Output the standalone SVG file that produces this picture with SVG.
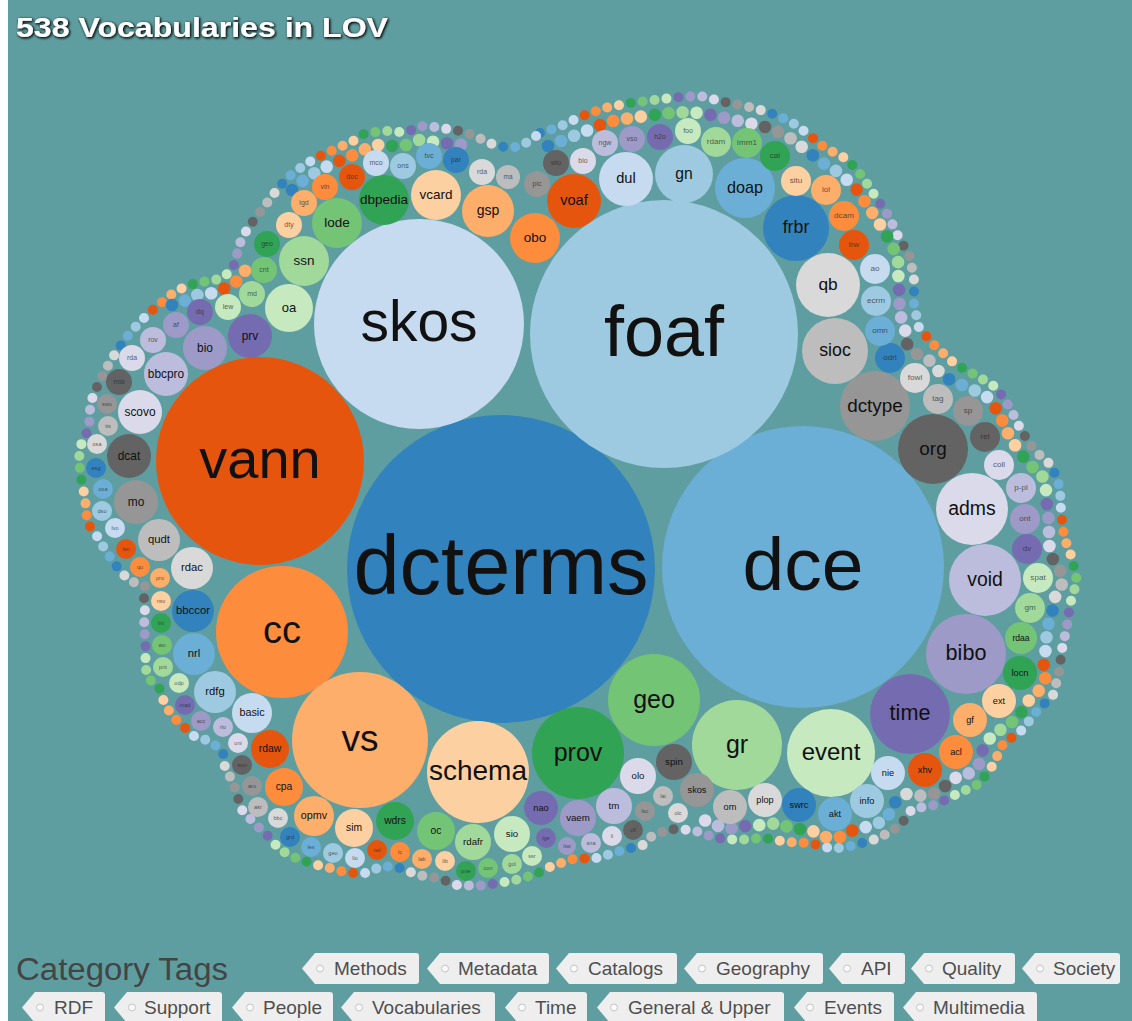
<svg xmlns="http://www.w3.org/2000/svg" width="1132" height="1021" viewBox="0 0 1132 1021">
<style>
.c0{fill:#3182bd}.c1{fill:#6baed6}.c2{fill:#9ecae1}.c3{fill:#c6dbef}.c4{fill:#e6550d}.c5{fill:#fd8d3c}.c6{fill:#fdae6b}.c7{fill:#fdd0a2}.c8{fill:#31a354}.c9{fill:#74c476}.c10{fill:#a1d99b}.c11{fill:#c7e9c0}.c12{fill:#756bb1}.c13{fill:#9e9ac8}.c14{fill:#bcbddc}.c15{fill:#dadaeb}.c16{fill:#636363}.c17{fill:#969696}.c18{fill:#bdbdbd}.c19{fill:#d9d9d9}
.d0{stroke:#3182bd}.d1{stroke:#6baed6}.d2{stroke:#9ecae1}.d3{stroke:#c6dbef}.d4{stroke:#e6550d}.d5{stroke:#fd8d3c}.d6{stroke:#fdae6b}.d7{stroke:#fdd0a2}.d8{stroke:#31a354}.d9{stroke:#74c476}.d10{stroke:#a1d99b}.d11{stroke:#c7e9c0}.d12{stroke:#756bb1}.d13{stroke:#9e9ac8}.d14{stroke:#bcbddc}.d15{stroke:#dadaeb}.d16{stroke:#636363}.d17{stroke:#969696}.d18{stroke:#bdbdbd}.d19{stroke:#d9d9d9}
.node text{font-family:"Liberation Sans",Arial,sans-serif;text-anchor:middle;fill:#111}
.sm text{fill:#2a2a2a;fill-opacity:.75}
.row use{fill:none;stroke-linecap:round}
.r1 use{stroke-width:10;stroke-dasharray:0 240}
.r2 use{stroke-width:12.6;stroke-dasharray:0 280}
.tag path{fill:#eeeeee}
.tag circle{fill:#fafafa;stroke:#c4c4c4;stroke-width:1}
.tag text{font-family:"Liberation Sans",Arial,sans-serif;font-size:19px;fill:#4e4e4e}
</style>
<defs>
<filter id="ts" x="-5%" y="-40%" width="110%" height="180%">
<feGaussianBlur in="SourceAlpha" stdDeviation="1.6"/>
<feOffset dx="1" dy="1" result="b"/>
<feFlood flood-color="#000" flood-opacity="0.8"/>
<feComposite in2="b" operator="in"/>
<feMerge><feMergeNode/><feMergeNode/><feMergeNode in="SourceGraphic"/></feMerge>
</filter>
<path id="p1" d="M540,133 L559,127 580,117 605,108 630,103 655,100 680,97 700,96 720,101 745,106 768,112 790,121 808,134 825,148 847,159 862,176 875,196 888,215 898,236 910,257 914,280 914,305 919,328 935,346 955,364 977,376 997,388 1010,408 1021,430 1034,450 1052,466 1060,488 1061,512 1064,537 1072,558 1077,581 1070,604 1067,626 1062,649 1059,673 1053,695 1037,711 1022,730 1003,744 993,765 979,784 957,794 935,805 912,809 900,826 879,838 856,845 833,849 810,843 787,842 763,838 739,840 716,838 693,830 670,829 652,836 643,845 620,851 597,858 573,859 552,866 536,874 520,879 500,883 478,886 457,885 438,878 418,875 400,868 383,866 365,873 348,873 330,868 313,864 296,858 280,850 268,836 255,824 242,810 237,795 233,782 225,768 223,752 210,741 195,737 183,726 172,716 164,702 160,689 148,678 145,665 146,652 145,638 144,625 145,612 144,598 145,586 130,581 120,571 112,560 104,548 97,536 88,524 86,510 85,497 82,484 80,471 79,458 81,445 87,432 90,419 90,406 94,393 100,381 106,369 113,357 121,345 129,334 139,323 150,312 161,303 172,294 184,287 196,283 208,281 220,279 230,272 236,261 238,248 243,236 251,224 260,212 270,199 280,186 291,175 303,166 316,158 329,152 342,146 355,140 364,134 376,132 388,131 400,132 412,130 423,126 435,127 447,129 459,131 470,134 481,139 492,144 504,147 516,147 528,142 Z"/>
<path id="p2" d="M172,305 L182,303 191,296 203,294 215,293 227,287 237,281 245,271 248,260 M292,190 L306,178 320,170 334,163 349,157 363,150 378,145 392,146 406,145 419,140 443,143 468,145 M548,146 L566,139 586,131 607,122 630,118 654,115 678,112 702,113 725,118 748,123 769,128 789,137 806,150 823,163 841,174 857,190 871,211 883,229 893,247 899,265 898,282 900,297 899,312 905,327 906,343 917,354 932,362 942,376 957,383 972,389 987,397 997,410 1004,424 1010,438 1019,451 1029,464 1042,475 1046,490 1047,507 1049,523 1049,539 1050,555 1060,569 1062,584 1054,599 1052,615 1046,630 1047,645 1043,661 1046,677 1038,692 1026,703 1019,717 1005,727 992,735 983,749 979,764 967,775 951,779 940,792 924,796 906,794 893,804 887,819 872,826 855,829 841,837 824,837 809,829 793,829 778,823 762,825 745,826 728,829 712,824 698,817"/>
</defs>
<rect x="0" y="0" width="1132" height="1021" fill="#5f9ea0"/>
<rect x="0" y="0" width="8" height="1021" fill="#ffffff"/>

<g id="outer-ring-1" class="row r1">
<use href="#p1" class="d0"/><use href="#p1" class="d1" style="stroke-dashoffset:-12"/><use href="#p1" class="d2" style="stroke-dashoffset:-24"/><use href="#p1" class="d3" style="stroke-dashoffset:-36"/><use href="#p1" class="d4" style="stroke-dashoffset:-48"/><use href="#p1" class="d5" style="stroke-dashoffset:-60"/><use href="#p1" class="d6" style="stroke-dashoffset:-72"/><use href="#p1" class="d7" style="stroke-dashoffset:-84"/><use href="#p1" class="d8" style="stroke-dashoffset:-96"/><use href="#p1" class="d9" style="stroke-dashoffset:-108"/><use href="#p1" class="d10" style="stroke-dashoffset:-120"/><use href="#p1" class="d11" style="stroke-dashoffset:-132"/><use href="#p1" class="d12" style="stroke-dashoffset:-144"/><use href="#p1" class="d13" style="stroke-dashoffset:-156"/><use href="#p1" class="d14" style="stroke-dashoffset:-168"/><use href="#p1" class="d15" style="stroke-dashoffset:-180"/><use href="#p1" class="d16" style="stroke-dashoffset:-192"/><use href="#p1" class="d17" style="stroke-dashoffset:-204"/><use href="#p1" class="d18" style="stroke-dashoffset:-216"/><use href="#p1" class="d19" style="stroke-dashoffset:-228"/>
</g>
<g id="outer-ring-2" class="row r2">
<use href="#p2" class="d0"/><use href="#p2" class="d1" style="stroke-dashoffset:-14"/><use href="#p2" class="d2" style="stroke-dashoffset:-28"/><use href="#p2" class="d3" style="stroke-dashoffset:-42"/><use href="#p2" class="d4" style="stroke-dashoffset:-56"/><use href="#p2" class="d5" style="stroke-dashoffset:-70"/><use href="#p2" class="d6" style="stroke-dashoffset:-84"/><use href="#p2" class="d7" style="stroke-dashoffset:-98"/><use href="#p2" class="d8" style="stroke-dashoffset:-112"/><use href="#p2" class="d9" style="stroke-dashoffset:-126"/><use href="#p2" class="d10" style="stroke-dashoffset:-140"/><use href="#p2" class="d11" style="stroke-dashoffset:-154"/><use href="#p2" class="d12" style="stroke-dashoffset:-168"/><use href="#p2" class="d13" style="stroke-dashoffset:-182"/><use href="#p2" class="d14" style="stroke-dashoffset:-196"/><use href="#p2" class="d15" style="stroke-dashoffset:-210"/><use href="#p2" class="d16" style="stroke-dashoffset:-224"/><use href="#p2" class="d17" style="stroke-dashoffset:-238"/><use href="#p2" class="d18" style="stroke-dashoffset:-252"/><use href="#p2" class="d19" style="stroke-dashoffset:-266"/>
</g>

<g id="nodes">
<g id="n-dcterms" class="node"><circle class="c0" cx="501" cy="569" r="154"/><text x="501" y="569" dy=".3em" font-size="83">dcterms</text></g>
<g id="n-dce" class="node"><circle class="c1" cx="803" cy="567" r="141"/><text x="803" y="567" dy=".3em" font-size="75">dce</text></g>
<g id="n-foaf" class="node"><circle class="c2" cx="664" cy="334" r="134"/><text x="664" y="334" dy=".3em" font-size="72">foaf</text></g>
<g id="n-skos" class="node"><circle class="c3" cx="419" cy="324" r="105"/><text x="419" y="324" dy=".3em" font-size="57">skos</text></g>
<g id="n-vann" class="node"><circle class="c4" cx="260" cy="461" r="104"/><text x="260" y="461" dy=".3em" font-size="56">vann</text></g>
<g id="n-cc" class="node"><circle class="c5" cx="282" cy="632" r="66"/><text x="282" y="632" dy=".3em" font-size="38">cc</text></g>
<g id="n-vs" class="node"><circle class="c6" cx="360" cy="740" r="68"/><text x="360" y="740" dy=".3em" font-size="37">vs</text></g>
<g id="n-schema" class="node"><circle class="c7" cx="478" cy="772" r="51"/><text x="478" y="772" dy=".3em" font-size="28">schema</text></g>
<g id="n-prov" class="node"><circle class="c8" cx="578" cy="753" r="46"/><text x="578" y="753" dy=".3em" font-size="25">prov</text></g>
<g id="n-geo" class="node"><circle class="c9" cx="654" cy="700" r="46"/><text x="654" y="700" dy=".3em" font-size="25">geo</text></g>
<g id="n-gr" class="node"><circle class="c10" cx="737" cy="745" r="45"/><text x="737" y="745" dy=".3em" font-size="25">gr</text></g>
<g id="n-event" class="node"><circle class="c11" cx="831" cy="753" r="44"/><text x="831" y="753" dy=".3em" font-size="24">event</text></g>
<g id="n-time" class="node"><circle class="c12" cx="910" cy="714" r="40"/><text x="910" y="714" dy=".3em" font-size="21.6">time</text></g>
<g id="n-bibo" class="node"><circle class="c13" cx="966" cy="654" r="40"/><text x="966" y="654" dy=".3em" font-size="21.6">bibo</text></g>
<g id="n-void" class="node"><circle class="c14" cx="985" cy="580" r="36"/><text x="985" y="580" dy=".3em" font-size="19.4">void</text></g>
<g id="n-adms" class="node"><circle class="c15" cx="972" cy="509" r="36"/><text x="972" y="509" dy=".3em" font-size="19.4">adms</text></g>
<g id="n-org" class="node"><circle class="c16" cx="933" cy="449" r="35"/><text x="933" y="449" dy=".3em" font-size="18.9">org</text></g>
<g id="n-dctype" class="node"><circle class="c17" cx="875" cy="406" r="35"/><text x="875" y="406" dy=".3em" font-size="18.9">dctype</text></g>
<g id="n-sioc" class="node"><circle class="c18" cx="835" cy="351" r="33"/><text x="835" y="351" dy=".3em" font-size="17.8">sioc</text></g>
<g id="n-qb" class="node"><circle class="c19" cx="828" cy="285" r="32"/><text x="828" y="285" dy=".3em" font-size="17.3">qb</text></g>
<g id="n-frbr" class="node"><circle class="c0" cx="796" cy="228" r="33"/><text x="796" y="228" dy=".3em" font-size="17.8">frbr</text></g>
<g id="n-doap" class="node"><circle class="c1" cx="745" cy="188" r="30"/><text x="745" y="188" dy=".3em" font-size="16.2">doap</text></g>
<g id="n-gn" class="node"><circle class="c2" cx="684" cy="174" r="29"/><text x="684" y="174" dy=".3em" font-size="15.7">gn</text></g>
<g id="n-dul" class="node"><circle class="c3" cx="626" cy="179" r="27"/><text x="626" y="179" dy=".3em" font-size="14.6">dul</text></g>
<g id="n-voaf" class="node"><circle class="c4" cx="574" cy="201" r="27"/><text x="574" y="201" dy=".3em" font-size="14.6">voaf</text></g>
<g id="n-obo" class="node"><circle class="c5" cx="535" cy="238" r="25"/><text x="535" y="238" dy=".3em" font-size="13.5">obo</text></g>
<g id="n-gsp" class="node"><circle class="c6" cx="488" cy="211" r="26"/><text x="488" y="211" dy=".3em" font-size="14">gsp</text></g>
<g id="n-vcard" class="node"><circle class="c7" cx="436" cy="195" r="25"/><text x="436" y="195" dy=".3em" font-size="13.5">vcard</text></g>
<g id="n-dbpedia" class="node"><circle class="c8" cx="384" cy="200" r="25"/><text x="384" y="200" dy=".3em" font-size="13.5">dbpedia</text></g>
<g id="n-lode" class="node"><circle class="c9" cx="337" cy="223" r="25"/><text x="337" y="223" dy=".3em" font-size="13.5">lode</text></g>
<g id="n-ssn" class="node"><circle class="c10" cx="304" cy="261" r="25"/><text x="304" y="261" dy=".3em" font-size="13.5">ssn</text></g>
<g id="n-oa" class="node"><circle class="c11" cx="289" cy="308" r="24"/><text x="289" y="308" dy=".3em" font-size="13">oa</text></g>
<g id="n-prv" class="node"><circle class="c12" cx="250" cy="336" r="22"/><text x="250" y="336" dy=".3em" font-size="11.9">prv</text></g>
<g id="n-bio" class="node"><circle class="c13" cx="205" cy="348" r="22"/><text x="205" y="348" dy=".3em" font-size="11.9">bio</text></g>
<g id="n-bbcpro" class="node"><circle class="c14" cx="166" cy="374" r="22"/><text x="166" y="374" dy=".3em" font-size="11.9">bbcpro</text></g>
<g id="n-scovo" class="node"><circle class="c15" cx="140" cy="412" r="22"/><text x="140" y="412" dy=".3em" font-size="11.9">scovo</text></g>
<g id="n-dcat" class="node"><circle class="c16" cx="129" cy="456" r="22"/><text x="129" y="456" dy=".3em" font-size="11.9">dcat</text></g>
<g id="n-mo" class="node"><circle class="c17" cx="136" cy="502" r="22"/><text x="136" y="502" dy=".3em" font-size="11.9">mo</text></g>
<g id="n-qudt" class="node"><circle class="c18" cx="159" cy="540" r="21"/><text x="159" y="540" dy=".3em" font-size="11.3">qudt</text></g>
<g id="n-rdac" class="node"><circle class="c19" cx="192" cy="568" r="21"/><text x="192" y="568" dy=".3em" font-size="11.3">rdac</text></g>
<g id="n-bbccor" class="node"><circle class="c0" cx="193" cy="611" r="21"/><text x="193" y="611" dy=".3em" font-size="11.3">bbccor</text></g>
<g id="n-nrl" class="node"><circle class="c1" cx="194" cy="654" r="21"/><text x="194" y="654" dy=".3em" font-size="11.3">nrl</text></g>
<g id="n-rdfg" class="node"><circle class="c2" cx="215" cy="692" r="21"/><text x="215" y="692" dy=".3em" font-size="11.3">rdfg</text></g>
<g id="n-basic" class="node"><circle class="c3" cx="252" cy="713" r="20"/><text x="252" y="713" dy=".3em" font-size="10.8">basic</text></g>
<g id="n-rdaw" class="node"><circle class="c4" cx="270" cy="749" r="19"/><text x="270" y="749" dy=".3em" font-size="10.3">rdaw</text></g>
<g id="n-cpa" class="node"><circle class="c5" cx="284" cy="787" r="19"/><text x="284" y="787" dy=".3em" font-size="10.3">cpa</text></g>
<g id="n-opmv" class="node"><circle class="c6" cx="314" cy="816" r="20"/><text x="314" y="816" dy=".3em" font-size="10.8">opmv</text></g>
<g id="n-sim" class="node"><circle class="c7" cx="354" cy="828" r="19"/><text x="354" y="828" dy=".3em" font-size="10.3">sim</text></g>
<g id="n-wdrs" class="node"><circle class="c8" cx="395" cy="821" r="19"/><text x="395" y="821" dy=".3em" font-size="10.3">wdrs</text></g>
<g id="n-oc" class="node"><circle class="c9" cx="436" cy="831" r="19"/><text x="436" y="831" dy=".3em" font-size="10.3">oc</text></g>
<g id="n-rdafr" class="node"><circle class="c10" cx="473" cy="842" r="18"/><text x="473" y="842" dy=".3em" font-size="9.7">rdafr</text></g>
<g id="n-sio" class="node"><circle class="c11" cx="512" cy="834" r="18"/><text x="512" y="834" dy=".3em" font-size="9.7">sio</text></g>
<g id="n-nao" class="node"><circle class="c12" cx="541" cy="808" r="17"/><text x="541" y="808" dy=".3em" font-size="9.2">nao</text></g>
<g id="n-vaem" class="node"><circle class="c13" cx="578" cy="818" r="18"/><text x="578" y="818" dy=".3em" font-size="9.7">vaem</text></g>
<g id="n-tm" class="node"><circle class="c14" cx="614" cy="806" r="18"/><text x="614" y="806" dy=".3em" font-size="9.7">tm</text></g>
<g id="n-olo" class="node"><circle class="c15" cx="638" cy="776" r="18"/><text x="638" y="776" dy=".3em" font-size="9.7">olo</text></g>
<g id="n-spin" class="node"><circle class="c16" cx="674" cy="762" r="18"/><text x="674" y="762" dy=".3em" font-size="9.7">spin</text></g>
<g id="n-skos-2" class="node"><circle class="c17" cx="697" cy="790" r="17"/><text x="697" y="790" dy=".3em" font-size="9.2">skos</text></g>
<g id="n-om" class="node"><circle class="c18" cx="730" cy="807" r="17"/><text x="730" y="807" dy=".3em" font-size="9.2">om</text></g>
<g id="n-plop" class="node"><circle class="c19" cx="765" cy="800" r="17"/><text x="765" y="800" dy=".3em" font-size="9.2">plop</text></g>
<g id="n-swrc" class="node"><circle class="c0" cx="799" cy="805" r="17"/><text x="799" y="805" dy=".3em" font-size="9.2">swrc</text></g>
<g id="n-akt" class="node"><circle class="c1" cx="835" cy="814" r="17"/><text x="835" y="814" dy=".3em" font-size="9.2">akt</text></g>
<g id="n-info" class="node"><circle class="c2" cx="867" cy="801" r="17"/><text x="867" y="801" dy=".3em" font-size="9.2">info</text></g>
<g id="n-nie" class="node"><circle class="c3" cx="888" cy="773" r="17"/><text x="888" y="773" dy=".3em" font-size="9.2">nie</text></g>
<g id="n-xhv" class="node"><circle class="c4" cx="925" cy="770" r="17"/><text x="925" y="770" dy=".3em" font-size="9.2">xhv</text></g>
<g id="n-acl" class="node"><circle class="c5" cx="956" cy="752" r="17"/><text x="956" y="752" dy=".3em" font-size="9.2">acl</text></g>
<g id="n-gf" class="node"><circle class="c6" cx="970" cy="720" r="17"/><text x="970" y="720" dy=".3em" font-size="9.2">gf</text></g>
<g id="n-ext" class="node"><circle class="c7" cx="999" cy="701" r="17"/><text x="999" y="701" dy=".3em" font-size="9.2">ext</text></g>
<g id="n-locn" class="node"><circle class="c8" cx="1020" cy="673" r="17"/><text x="1020" y="673" dy=".3em" font-size="9.2">locn</text></g>
<g id="n-rdaa" class="node"><circle class="c9" cx="1021" cy="638" r="16"/><text x="1021" y="638" dy=".3em" font-size="8.6">rdaa</text></g>
<g id="n-gm" class="node sm"><circle class="c10" cx="1030" cy="608" r="15"/><text x="1030" y="608" dy=".3em" font-size="8.1">gm</text></g>
<g id="n-spat" class="node sm"><circle class="c11" cx="1038" cy="578" r="15"/><text x="1038" y="578" dy=".3em" font-size="8.1">spat</text></g>
<g id="n-dv" class="node sm"><circle class="c12" cx="1027" cy="549" r="15"/><text x="1027" y="549" dy=".3em" font-size="8.1">dv</text></g>
<g id="n-ont" class="node sm"><circle class="c13" cx="1025" cy="519" r="15"/><text x="1025" y="519" dy=".3em" font-size="8.1">ont</text></g>
<g id="n-p-pl" class="node sm"><circle class="c14" cx="1021" cy="488" r="15"/><text x="1021" y="488" dy=".3em" font-size="8.1">p-pl</text></g>
<g id="n-coll" class="node sm"><circle class="c15" cx="999" cy="465" r="15"/><text x="999" y="465" dy=".3em" font-size="8.1">coll</text></g>
<g id="n-rel" class="node sm"><circle class="c16" cx="985" cy="437" r="15"/><text x="985" y="437" dy=".3em" font-size="8.1">rel</text></g>
<g id="n-sp" class="node sm"><circle class="c17" cx="968" cy="411" r="15"/><text x="968" y="411" dy=".3em" font-size="8.1">sp</text></g>
<g id="n-tag" class="node sm"><circle class="c18" cx="938" cy="399" r="15"/><text x="938" y="399" dy=".3em" font-size="8.1">tag</text></g>
<g id="n-fowl" class="node sm"><circle class="c19" cx="915" cy="378" r="15"/><text x="915" y="378" dy=".3em" font-size="8.1">fowl</text></g>
<g id="n-odrl" class="node sm"><circle class="c0" cx="890" cy="358" r="15"/><text x="890" y="358" dy=".3em" font-size="8.1">odrl</text></g>
<g id="n-omn" class="node sm"><circle class="c1" cx="880" cy="331" r="15"/><text x="880" y="331" dy=".3em" font-size="8.1">omn</text></g>
<g id="n-ecrm" class="node sm"><circle class="c2" cx="876" cy="301" r="15"/><text x="876" y="301" dy=".3em" font-size="8.1">ecrm</text></g>
<g id="n-ao" class="node sm"><circle class="c3" cx="875" cy="269" r="15"/><text x="875" y="269" dy=".3em" font-size="8.1">ao</text></g>
<g id="n-lrw" class="node sm"><circle class="c4" cx="854" cy="245" r="15"/><text x="854" y="245" dy=".3em" font-size="8.1">lrw</text></g>
<g id="n-dcam" class="node sm"><circle class="c5" cx="844" cy="216" r="15"/><text x="844" y="216" dy=".3em" font-size="8.1">dcam</text></g>
<g id="n-lol" class="node sm"><circle class="c6" cx="826" cy="190" r="15"/><text x="826" y="190" dy=".3em" font-size="8.1">lol</text></g>
<g id="n-situ" class="node sm"><circle class="c7" cx="796" cy="181" r="15"/><text x="796" y="181" dy=".3em" font-size="8.1">situ</text></g>
<g id="n-cal" class="node sm"><circle class="c8" cx="775" cy="156" r="15"/><text x="775" y="156" dy=".3em" font-size="8.1">cal</text></g>
<g id="n-lmm1" class="node sm"><circle class="c9" cx="747" cy="143" r="15"/><text x="747" y="143" dy=".3em" font-size="8.1">lmm1</text></g>
<g id="n-rdam" class="node sm"><circle class="c10" cx="716" cy="142" r="15"/><text x="716" y="142" dy=".3em" font-size="8.1">rdam</text></g>
<g id="n-foo" class="node sm"><circle class="c11" cx="688" cy="131" r="13"/><text x="688" y="131" dy=".3em" font-size="7">foo</text></g>
<g id="n-h2o" class="node sm"><circle class="c12" cx="660" cy="137" r="13"/><text x="660" y="137" dy=".3em" font-size="7">h2o</text></g>
<g id="n-vso" class="node sm"><circle class="c13" cx="632" cy="139" r="13"/><text x="632" y="139" dy=".3em" font-size="7">vso</text></g>
<g id="n-ngw" class="node sm"><circle class="c14" cx="605" cy="143" r="13"/><text x="605" y="143" dy=".3em" font-size="7">ngw</text></g>
<g id="n-bio-2" class="node sm"><circle class="c15" cx="583" cy="161" r="13"/><text x="583" y="161" dy=".3em" font-size="7">bio</text></g>
<g id="n-wlo" class="node sm"><circle class="c16" cx="556" cy="163" r="13"/><text x="556" y="163" dy=".3em" font-size="7">wlo</text></g>
<g id="n-pic" class="node sm"><circle class="c17" cx="537" cy="184" r="13"/><text x="537" y="184" dy=".3em" font-size="7">pic</text></g>
<g id="n-ma" class="node sm"><circle class="c18" cx="508" cy="177" r="12"/><text x="508" y="177" dy=".3em" font-size="6.5">ma</text></g>
<g id="n-rda" class="node sm"><circle class="c19" cx="482" cy="172" r="13"/><text x="482" y="172" dy=".3em" font-size="7">rda</text></g>
<g id="n-par" class="node sm"><circle class="c0" cx="456" cy="160" r="13"/><text x="456" y="160" dy=".3em" font-size="7">par</text></g>
<g id="n-tvc" class="node sm"><circle class="c1" cx="429" cy="156" r="13"/><text x="429" y="156" dy=".3em" font-size="7">tvc</text></g>
<g id="n-ons" class="node sm"><circle class="c2" cx="403" cy="166" r="13"/><text x="403" y="166" dy=".3em" font-size="7">ons</text></g>
<g id="n-mco" class="node sm"><circle class="c3" cx="376" cy="163" r="13"/><text x="376" y="163" dy=".3em" font-size="7">mco</text></g>
<g id="n-doc" class="node sm"><circle class="c4" cx="352" cy="177" r="13"/><text x="352" y="177" dy=".3em" font-size="7">doc</text></g>
<g id="n-vin" class="node sm"><circle class="c5" cx="325" cy="187" r="13"/><text x="325" y="187" dy=".3em" font-size="7">vin</text></g>
<g id="n-lgd" class="node sm"><circle class="c6" cx="304" cy="203" r="13"/><text x="304" y="203" dy=".3em" font-size="7">lgd</text></g>
<g id="n-dty" class="node sm"><circle class="c7" cx="289" cy="225" r="13"/><text x="289" y="225" dy=".3em" font-size="7">dty</text></g>
<g id="n-geo-2" class="node sm"><circle class="c8" cx="267" cy="244" r="13"/><text x="267" y="244" dy=".3em" font-size="7">geo</text></g>
<g id="n-cnt" class="node sm"><circle class="c9" cx="264" cy="270" r="13"/><text x="264" y="270" dy=".3em" font-size="7">cnt</text></g>
<g id="n-md" class="node sm"><circle class="c10" cx="252" cy="294" r="13"/><text x="252" y="294" dy=".3em" font-size="7">md</text></g>
<g id="n-lew" class="node sm"><circle class="c11" cx="228" cy="307" r="13"/><text x="228" y="307" dy=".3em" font-size="7">lew</text></g>
<g id="n-dq" class="node sm"><circle class="c12" cx="200" cy="312" r="13"/><text x="200" y="312" dy=".3em" font-size="7">dq</text></g>
<g id="n-af" class="node sm"><circle class="c13" cx="176" cy="325" r="13"/><text x="176" y="325" dy=".3em" font-size="7">af</text></g>
<g id="n-rov" class="node sm"><circle class="c14" cx="153" cy="340" r="13"/><text x="153" y="340" dy=".3em" font-size="7">rov</text></g>
<g id="n-rda-2" class="node sm"><circle class="c15" cx="132" cy="358" r="13"/><text x="132" y="358" dy=".3em" font-size="7">rda</text></g>
<g id="n-mla" class="node sm"><circle class="c16" cx="119" cy="382" r="13"/><text x="119" y="382" dy=".3em" font-size="7">mla</text></g>
<g id="n-swo" class="node sm"><circle class="c17" cx="107" cy="404" r="10"/><text x="107" y="404" dy=".3em" font-size="5.6">swo</text></g>
<g id="n-tis" class="node sm"><circle class="c18" cx="108" cy="426" r="10"/><text x="108" y="426" dy=".3em" font-size="5.6">tis</text></g>
<g id="n-osa" class="node sm"><circle class="c19" cx="97" cy="444" r="10"/><text x="97" y="444" dy=".3em" font-size="5.6">osa</text></g>
<g id="n-esg" class="node sm"><circle class="c0" cx="96" cy="468" r="10"/><text x="96" y="468" dy=".3em" font-size="5.6">esg</text></g>
<g id="n-oxa" class="node sm"><circle class="c1" cx="103" cy="489" r="10"/><text x="103" y="489" dy=".3em" font-size="5.6">oxa</text></g>
<g id="n-dso" class="node sm"><circle class="c2" cx="102" cy="511" r="10"/><text x="102" y="511" dy=".3em" font-size="5.6">dso</text></g>
<g id="n-lvo" class="node sm"><circle class="c3" cx="115" cy="528" r="10"/><text x="115" y="528" dy=".3em" font-size="5.6">lvo</text></g>
<g id="n-lsn" class="node sm"><circle class="c4" cx="126" cy="549" r="10"/><text x="126" y="549" dy=".3em" font-size="5.6">lsn</text></g>
<g id="n-qu" class="node sm"><circle class="c5" cx="140" cy="567" r="10"/><text x="140" y="567" dy=".3em" font-size="5.6">qu</text></g>
<g id="n-pro" class="node sm"><circle class="c6" cx="160" cy="578" r="10"/><text x="160" y="578" dy=".3em" font-size="5.6">pro</text></g>
<g id="n-nsv" class="node sm"><circle class="c7" cx="161" cy="601" r="10"/><text x="161" y="601" dy=".3em" font-size="5.6">nsv</text></g>
<g id="n-lnt" class="node sm"><circle class="c8" cx="161" cy="623" r="10"/><text x="161" y="623" dy=".3em" font-size="5.6">lnt</text></g>
<g id="n-wo" class="node sm"><circle class="c9" cx="162" cy="645" r="10"/><text x="162" y="645" dy=".3em" font-size="5.6">wo</text></g>
<g id="n-pnt" class="node sm"><circle class="c10" cx="163" cy="667" r="10"/><text x="163" y="667" dy=".3em" font-size="5.6">pnt</text></g>
<g id="n-odp" class="node sm"><circle class="c11" cx="179" cy="683" r="10"/><text x="179" y="683" dy=".3em" font-size="5.6">odp</text></g>
<g id="n-mad" class="node sm"><circle class="c12" cx="185" cy="705" r="10"/><text x="185" y="705" dy=".3em" font-size="5.6">mad</text></g>
<g id="n-acc" class="node sm"><circle class="c13" cx="201" cy="721" r="10"/><text x="201" y="721" dy=".3em" font-size="5.6">acc</text></g>
<g id="n-rlo" class="node sm"><circle class="c14" cx="223" cy="727" r="10"/><text x="223" y="727" dy=".3em" font-size="5.6">rlo</text></g>
<g id="n-uni" class="node sm"><circle class="c15" cx="238" cy="743" r="10"/><text x="238" y="743" dy=".3em" font-size="5.6">uni</text></g>
<g id="n-suo" class="node sm"><circle class="c16" cx="242" cy="765" r="10"/><text x="242" y="765" dy=".3em" font-size="5.6">suo</text></g>
<g id="n-aro" class="node sm"><circle class="c17" cx="252" cy="786" r="10"/><text x="252" y="786" dy=".3em" font-size="5.6">aro</text></g>
<g id="n-akr" class="node sm"><circle class="c18" cx="258" cy="807" r="10"/><text x="258" y="807" dy=".3em" font-size="5.6">akr</text></g>
<g id="n-bbc" class="node sm"><circle class="c19" cx="278" cy="818" r="10"/><text x="278" y="818" dy=".3em" font-size="5.6">bbc</text></g>
<g id="n-grd" class="node sm"><circle class="c0" cx="290" cy="837" r="10"/><text x="290" y="837" dy=".3em" font-size="5.6">grd</text></g>
<g id="n-lex" class="node sm"><circle class="c1" cx="311" cy="847" r="10"/><text x="311" y="847" dy=".3em" font-size="5.6">lex</text></g>
<g id="n-geo-3" class="node sm"><circle class="c2" cx="333" cy="853" r="10"/><text x="333" y="853" dy=".3em" font-size="5.6">geo</text></g>
<g id="n-lio" class="node sm"><circle class="c3" cx="355" cy="858" r="10"/><text x="355" y="858" dy=".3em" font-size="5.6">lio</text></g>
<g id="n-nsl" class="node sm"><circle class="c4" cx="377" cy="850" r="10"/><text x="377" y="850" dy=".3em" font-size="5.6">nsl</text></g>
<g id="n-lc" class="node sm"><circle class="c5" cx="400" cy="852" r="10"/><text x="400" y="852" dy=".3em" font-size="5.6">lc</text></g>
<g id="n-lab" class="node sm"><circle class="c6" cx="422" cy="859" r="10"/><text x="422" y="859" dy=".3em" font-size="5.6">lab</text></g>
<g id="n-lib" class="node sm"><circle class="c7" cx="445" cy="861" r="10"/><text x="445" y="861" dy=".3em" font-size="5.6">lib</text></g>
<g id="n-pne" class="node sm"><circle class="c8" cx="466" cy="871" r="10"/><text x="466" y="871" dy=".3em" font-size="5.6">pne</text></g>
<g id="n-con" class="node sm"><circle class="c9" cx="488" cy="868" r="10"/><text x="488" y="868" dy=".3em" font-size="5.6">con</text></g>
<g id="n-gol" class="node sm"><circle class="c10" cx="512" cy="864" r="10"/><text x="512" y="864" dy=".3em" font-size="5.6">gol</text></g>
<g id="n-ssr" class="node sm"><circle class="c11" cx="532" cy="856" r="10"/><text x="532" y="856" dy=".3em" font-size="5.6">ssr</text></g>
<g id="n-lge" class="node sm"><circle class="c12" cx="546" cy="838" r="10"/><text x="546" y="838" dy=".3em" font-size="5.6">lge</text></g>
<g id="n-lsw" class="node sm"><circle class="c13" cx="567" cy="846" r="9"/><text x="567" y="846" dy=".3em" font-size="5.2">lsw</text></g>
<g id="n-sna" class="node sm"><circle class="c14" cx="591" cy="843" r="10"/><text x="591" y="843" dy=".3em" font-size="5.6">sna</text></g>
<g id="n-li" class="node sm"><circle class="c15" cx="612" cy="836" r="10"/><text x="612" y="836" dy=".3em" font-size="5.6">li</text></g>
<g id="n-cff" class="node sm"><circle class="c16" cx="633" cy="830" r="10"/><text x="633" y="830" dy=".3em" font-size="5.6">cff</text></g>
<g id="n-lsc" class="node sm"><circle class="c17" cx="645" cy="811" r="10"/><text x="645" y="811" dy=".3em" font-size="5.6">lsc</text></g>
<g id="n-lai" class="node sm"><circle class="c18" cx="663" cy="796" r="10"/><text x="663" y="796" dy=".3em" font-size="5.6">lai</text></g>
<g id="n-olc" class="node sm"><circle class="c19" cx="678" cy="813" r="10"/><text x="678" y="813" dy=".3em" font-size="5.6">olc</text></g>
</g>

<text id="title" x="16" y="37" font-family="'Liberation Sans', Arial, sans-serif" font-weight="bold" font-size="28" fill="#ffffff" textLength="372" lengthAdjust="spacingAndGlyphs" filter="url(#ts)">538 Vocabularies in LOV</text>

<text id="category-title" x="16" y="980" font-family="'Liberation Sans', Arial, sans-serif" font-size="31" fill="#444444" textLength="212" lengthAdjust="spacingAndGlyphs">Category Tags</text>

<g id="tags">
<g id="tag-methods" class="tag"><path d="M302,968.5 L315,953 H416 Q419,953 419,956 V981 Q419,984 416,984 H315 Z"/><circle cx="320" cy="968.5" r="3.5"/><text x="334" y="975">Methods</text></g>
<g id="tag-metadata" class="tag"><path d="M427,968.5 L440,953 H546 Q549,953 549,956 V981 Q549,984 546,984 H440 Z"/><circle cx="445" cy="968.5" r="3.5"/><text x="458" y="975">Metadata</text></g>
<g id="tag-catalogs" class="tag"><path d="M556,968.5 L569,953 H674 Q677,953 677,956 V981 Q677,984 674,984 H569 Z"/><circle cx="574" cy="968.5" r="3.5"/><text x="588" y="975">Catalogs</text></g>
<g id="tag-geography" class="tag"><path d="M684,968.5 L697,953 H820 Q823,953 823,956 V981 Q823,984 820,984 H697 Z"/><circle cx="702" cy="968.5" r="3.5"/><text x="716" y="975">Geography</text></g>
<g id="tag-api" class="tag"><path d="M829,968.5 L842,953 H902 Q905,953 905,956 V981 Q905,984 902,984 H842 Z"/><circle cx="847" cy="968.5" r="3.5"/><text x="861" y="975">API</text></g>
<g id="tag-quality" class="tag"><path d="M911,968.5 L924,953 H1012 Q1015,953 1015,956 V981 Q1015,984 1012,984 H924 Z"/><circle cx="929" cy="968.5" r="3.5"/><text x="942" y="975">Quality</text></g>
<g id="tag-society" class="tag"><path d="M1022,968.5 L1035,953 H1117 Q1120,953 1120,956 V981 Q1120,984 1117,984 H1035 Z"/><circle cx="1040" cy="968.5" r="3.5"/><text x="1053" y="975">Society</text></g>
<g id="tag-rdf" class="tag"><path d="M22,1007.5 L35,992 H102 Q105,992 105,995 V1020 Q105,1023 102,1023 H35 Z"/><circle cx="40" cy="1007.5" r="3.5"/><text x="54" y="1014">RDF</text></g>
<g id="tag-support" class="tag"><path d="M114,1007.5 L127,992 H219 Q222,992 222,995 V1020 Q222,1023 219,1023 H127 Z"/><circle cx="132" cy="1007.5" r="3.5"/><text x="144" y="1014">Support</text></g>
<g id="tag-people" class="tag"><path d="M232,1007.5 L245,992 H330 Q333,992 333,995 V1020 Q333,1023 330,1023 H245 Z"/><circle cx="250" cy="1007.5" r="3.5"/><text x="263" y="1014">People</text></g>
<g id="tag-vocabularies" class="tag"><path d="M341,1007.5 L354,992 H492 Q495,992 495,995 V1020 Q495,1023 492,1023 H354 Z"/><circle cx="359" cy="1007.5" r="3.5"/><text x="372" y="1014">Vocabularies</text></g>
<g id="tag-time" class="tag"><path d="M505,1007.5 L518,992 H584 Q587,992 587,995 V1020 Q587,1023 584,1023 H518 Z"/><circle cx="522" cy="1007.5" r="3.5"/><text x="535" y="1014">Time</text></g>
<g id="tag-general" class="tag"><path d="M597,1007.5 L610,992 H781 Q784,992 784,995 V1020 Q784,1023 781,1023 H610 Z"/><circle cx="614" cy="1007.5" r="3.5"/><text x="628" y="1014">General &amp; Upper</text></g>
<g id="tag-events" class="tag"><path d="M794,1007.5 L807,992 H891 Q894,992 894,995 V1020 Q894,1023 891,1023 H807 Z"/><circle cx="810" cy="1007.5" r="3.5"/><text x="824" y="1014">Events</text></g>
<g id="tag-multimedia" class="tag"><path d="M903,1007.5 L916,992 H1034 Q1037,992 1037,995 V1020 Q1037,1023 1034,1023 H916 Z"/><circle cx="920" cy="1007.5" r="3.5"/><text x="933" y="1014">Multimedia</text></g>
</g>
</svg>
